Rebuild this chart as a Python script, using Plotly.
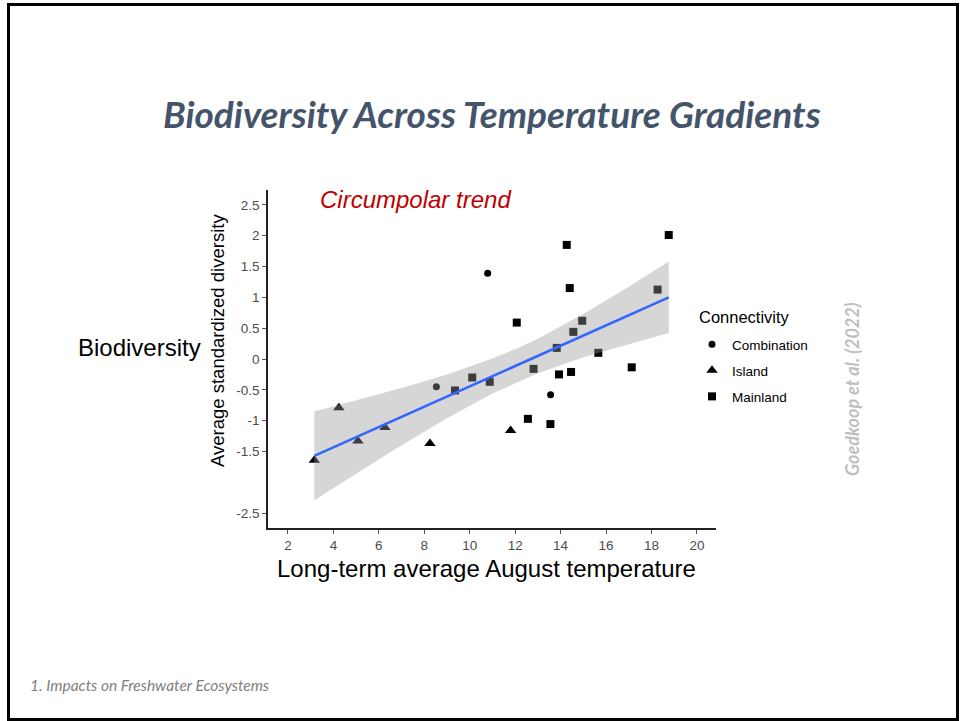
import plotly.graph_objects as go

# ---------------- data ----------------
combo_x = [10.79, 13.56, 8.53]
combo_y = [1.39, -0.58, -0.45]

island_x = [3.16, 4.24, 5.08, 6.27, 8.25, 11.80]
island_y = [-1.64, -0.79, -1.33, -1.11, -1.37, -1.16]

main_x = [14.27, 18.76, 14.40, 12.07, 18.27, 14.95, 14.56, 13.83, 15.66, 17.13,
          13.93, 14.46, 12.81, 10.11, 10.88, 12.56, 13.55, 9.35]
main_y = [1.85, 2.01, 1.15, 0.59, 1.125, 0.62, 0.44, 0.18, 0.10, -0.135,
          -0.25, -0.21, -0.16, -0.30, -0.37, -0.97, -1.055, -0.51]

fit_x = [3.16, 18.76]
fit_y = [-1.57, 1.00]

band_x = [3.16, 5, 7, 9, 11, 12, 13, 15, 17, 18.76]
band_upper = [-0.85, -0.67, -0.47, -0.25, 0.01, 0.16, 0.33, 0.73, 1.17, 1.58]
band_lower = [-2.29, -1.86, -1.40, -0.96, -0.56, -0.39, -0.23, 0.03, 0.24, 0.42]

x_ticks = [2, 4, 6, 8, 10, 12, 14, 16, 18, 20]
y_ticks = [2.5, 2, 1.5, 1, 0.5, 0, -0.5, -1, -1.5, -2.5]
y_tick_text = ["2.5", "2", "1.5", "1", "0.5", "0", "-0.5", "-1", "-1.5", "-2.5"]

# ---------------- layout geometry ----------------
W, H = 960, 721
L, R, T, B = 268, 716, 190, 528  # plot area in pixels


def px(x):
    return (x - L) / (R - L)


def py(y):
    return (B - y) / (B - T)


fig = go.Figure()

fig.add_trace(go.Scatter(x=combo_x, y=combo_y, mode="markers", name="Combination",
                         legendgroup="c",
                         marker=dict(symbol="circle", size=7, color="black")))
fig.add_trace(go.Scatter(x=island_x, y=island_y, mode="markers", name="Island",
                         legendgroup="i",
                         marker=dict(symbol="triangle-up", size=10, color="black")))
fig.add_trace(go.Scatter(x=main_x, y=main_y, mode="markers", name="Mainland",
                         legendgroup="m",
                         marker=dict(symbol="square", size=8, color="black")))

# ribbon on top of the points (semi-transparent)
fig.add_trace(go.Scatter(x=band_x + band_x[::-1], y=band_upper + band_lower[::-1],
                         mode="lines", fill="toself", fillcolor="rgba(153,153,153,0.4)",
                         line=dict(width=0), hoverinfo="skip", showlegend=False))
fig.add_trace(go.Scatter(x=fit_x, y=fit_y, mode="lines",
                         line=dict(color="#3366FF", width=2.6), showlegend=False))

axis_common = dict(showgrid=False, zeroline=False, showline=True, linecolor="#222222",
                   linewidth=1.5, ticks="outside", ticklen=4, tickcolor="#555555",
                   tickfont=dict(family="Liberation Sans, Arial", size=13.5, color="#4D4D4D"))

fig.update_xaxes(range=[1.12, 20.84], tickvals=x_ticks, **axis_common)
fig.update_yaxes(range=[-2.74, 2.74], tickvals=y_ticks, ticktext=y_tick_text, **axis_common)

annotations = [
    dict(text="<b><i>Biodiversity Across Temperature Gradients</i></b>", x=px(492), y=py(113),
         font=dict(family="Lato, Open Sans", size=37, color="#44546A")),
    dict(text="<i>Circumpolar trend</i>", x=px(415), y=py(199),
         font=dict(family="Liberation Sans, Arial", size=24, color="#C00000")),
    dict(text="Biodiversity", x=px(139), y=py(347),
         font=dict(family="Liberation Sans, Arial", size=24, color="black")),
    dict(text="Average standardized diversity", x=px(217), y=py(341), textangle=-90,
         font=dict(family="Liberation Sans, Arial", size=18.5, color="black")),
    dict(text="Long-term average August temperature", x=px(486), y=py(568),
         font=dict(family="Liberation Sans, Arial", size=24, color="black")),
    dict(text="<b><i>Goedkoop et al. (2022)</i></b>", x=px(852), y=py(389), textangle=-90,
         font=dict(family="Lato, Open Sans", size=18, color="#BFBFBF")),
    dict(text="<i>1. Impacts on Freshwater Ecosystems</i>", x=px(28), y=py(685), xanchor="left",
         font=dict(family="Lato, Open Sans", size=15.5, color="#808080")),
    dict(text="Connectivity", x=px(697), y=py(317), xanchor="left",
         font=dict(family="Liberation Sans, Arial", size=16.5, color="black")),
]
for a in annotations:
    a.setdefault("xanchor", "center")
    a.update(xref="paper", yref="paper", showarrow=False, yanchor="middle")

fig.update_layout(
    width=W, height=H,
    margin=dict(l=L, r=W - R, t=T, b=H - B),
    paper_bgcolor="white", plot_bgcolor="white",
    annotations=annotations,
    legend=dict(font=dict(family="Liberation Sans, Arial", size=13.5, color="black"),
                x=px(692), y=py(329), xanchor="left", yanchor="top",
                bgcolor="rgba(0,0,0,0)", tracegroupgap=5.5, itemsizing="trace",
                traceorder="grouped"),
    shapes=[dict(type="rect", xref="paper", yref="paper",
                 x0=px(8.5), x1=px(957.5), y0=py(4.5), y1=py(719.5),
                 line=dict(color="black", width=3), layer="below")],
)

fig.write_html("out.html", config={"displayModeBar": False},
               post_script="document.body.style.margin='0';")
